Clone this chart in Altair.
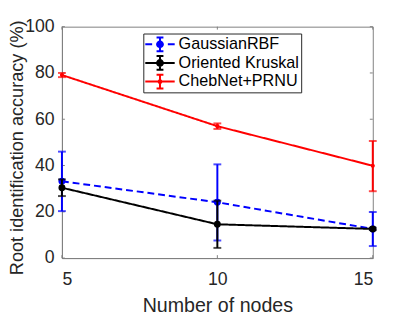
import altair as alt
import pandas as pd

nodes = [5, 10, 15]
series = ["GaussianRBF", "Oriented Kruskal", "ChebNet+PRNU"]
gauss_mean = [33.2, 24.1, 12.6]
gauss_lo = [20.3, 7.6, 5.2]
gauss_hi = [46.0, 40.5, 19.9]
krusk_mean = [30.4, 14.6, 12.6]
krusk_lo = [26.8, 4.4, 12.1]
krusk_hi = [34.0, 24.8, 13.1]
cheb_mean = [79.1, 57.0, 39.9]
cheb_lo = [78.2, 55.8, 28.9]
cheb_hi = [80.0, 58.2, 50.6]
x_ticks = [5, 10, 15]
y_ticks = [0, 20, 40, 60, 80, 100]

rows = []
for name, m, lo, hi in [
    (series[0], gauss_mean, gauss_lo, gauss_hi),
    (series[1], krusk_mean, krusk_lo, krusk_hi),
    (series[2], cheb_mean, cheb_lo, cheb_hi),
]:
    for i, n in enumerate(nodes):
        rows.append({"series": name, "nodes": n, "mean": m[i], "lo": lo[i], "hi": hi[i]})
df = pd.DataFrame(rows)

colors = ["#0000ff", "#000000", "#ff0000"]
font = "Liberation Sans"
tc = "#262626"

xs = alt.Scale(domain=[5, 15], nice=False, zero=False)
ys = alt.Scale(domain=[0, 100], nice=False)
cs = alt.Scale(domain=series, range=colors)

X = alt.X("nodes:Q", scale=xs, axis=alt.Axis(
    values=x_ticks, title="Number of nodes", grid=False, tickSize=0,
    labelFontSize=18, titleFontSize=20, labelFont=font, titleFont=font,
    labelColor=tc, titleColor=tc, titleFontWeight="normal",
    labelPadding=13, titlePadding=7, domainColor="#808080", domainWidth=1))
Y = alt.Y("mean:Q", scale=ys, axis=alt.Axis(
    values=y_ticks, title="Root identification accuracy (%)", grid=False, tickSize=0,
    labelFontSize=18, titleFontSize=18.5, labelFont=font, titleFont=font,
    labelColor=tc, titleColor=tc, titleFontWeight="normal",
    labelPadding=8, titleX=-36, titleY=123, titleAngle=270,
    titleAlign="center", titleBaseline="bottom",
    domainColor="#808080", domainWidth=1))

C = alt.Color("series:N", scale=cs, legend=None)

layers = []
for i, name in enumerate(series):
    d = alt.Chart(df).transform_filter(alt.datum.series == name)
    dash = [7, 4] if i == 0 else [1, 0]
    msize = 18 if i == 2 else 50
    line = d.mark_line(strokeWidth=2, strokeDash=dash).encode(x=X, y=Y, color=C)
    bar = d.mark_rule(strokeWidth=2).encode(
        x="nodes:Q", y=alt.Y("lo:Q", scale=ys), y2="hi:Q", color=C)
    cap_lo = d.mark_tick(orient="horizontal", size=8, thickness=2).encode(
        x="nodes:Q", y=alt.Y("lo:Q", scale=ys), color=C)
    cap_hi = d.mark_tick(orient="horizontal", size=8, thickness=2).encode(
        x="nodes:Q", y=alt.Y("hi:Q", scale=ys), color=C)
    pts = d.mark_point(filled=True, opacity=1, size=msize).encode(
        x="nodes:Q", y="mean:Q", color=C)
    layers += [line, bar, cap_lo, cap_hi, pts]

# inner ticks (MATLAB style)
ydf = pd.DataFrame({"t": y_ticks})
xdf = pd.DataFrame({"t": x_ticks})
tcol = "#808080"
tick_layers = [
    alt.Chart(ydf).mark_rule(color=tcol, strokeWidth=1).encode(
        x=alt.value(0), x2=alt.value(3), y=alt.Y("t:Q", scale=ys)),
    alt.Chart(ydf).mark_rule(color=tcol, strokeWidth=1).encode(
        x=alt.value(314), x2=alt.value(317), y=alt.Y("t:Q", scale=ys)),
    alt.Chart(xdf).mark_rule(color=tcol, strokeWidth=1).encode(
        y=alt.value(233), y2=alt.value(236), x=alt.X("t:Q", scale=xs)),
    alt.Chart(xdf).mark_rule(color=tcol, strokeWidth=1).encode(
        y=alt.value(0), y2=alt.value(3), x=alt.X("t:Q", scale=xs)),
]

# legend symbols: error-bar glyphs (unit = 9 px, nominal symbol 18 px,
# drawn 30 px wide starting at the symbol column's left edge)
u = 9.0
def px(v):
    return round(v / u, 4)
def rect(x0, y0, x1, y1):
    return f"M{px(x0)},{px(y0)}H{px(x1)}V{px(y1)}H{px(x0)}Z"
def circ(cx, r):
    a, b, rr = px(cx + r), px(cx - r), px(r)
    return f"M{a},0A{rr},{rr} 0 1 1 {b},0A{rr},{rr} 0 1 1 {a},0Z"
cx = 6.0  # errorbar centre relative to nominal symbol centre
ebar = (rect(cx - 1, -7, cx + 1, 7) + rect(cx - 3.5, -8, cx + 3.5, -6)
        + rect(cx - 3.5, 6, cx + 3.5, 8))
solid = rect(-9, -1, 21, 1)
dashed = rect(-9, -1, -2, 1) + rect(14, -1, 21, 1)
paths = [dashed + ebar + circ(cx, 4), solid + ebar + circ(cx, 4),
         solid + ebar + circ(cx, 2.5)]

leg_layer = alt.Chart(df).mark_point(filled=True, opacity=0).encode(
    x="nodes:Q", y="mean:Q",
    color=alt.Color("series:N", scale=alt.Scale(domain=series, range=colors),
                    legend=alt.Legend(title=None)),
    shape=alt.Shape("series:N", scale=alt.Scale(domain=series, range=paths),
                    legend=alt.Legend(title=None)),
)

chart = alt.layer(*tick_layers, *layers, leg_layer).resolve_scale(
    color="independent", shape="independent"
).properties(
    width=317, height=236,
    autosize=alt.AutoSizeParams(type="none"),
    padding={"left": 55, "top": 16, "right": 40, "bottom": 55},
).configure_view(stroke="#808080", strokeWidth=1).configure_legend(
    orient="none", legendX=83, legendY=7,
    strokeColor="#262626", fillColor="white", padding=2,
    symbolSize=324, symbolStrokeWidth=0, symbolOpacity=1,
    labelFont=font, labelFontSize=16.5, labelColor="#000000",
    labelOffset=16, rowPadding=1, cornerRadius=0, labelLimit=300,
)

chart.save("out.html", embed_options={"renderer": "svg", "actions": False})
